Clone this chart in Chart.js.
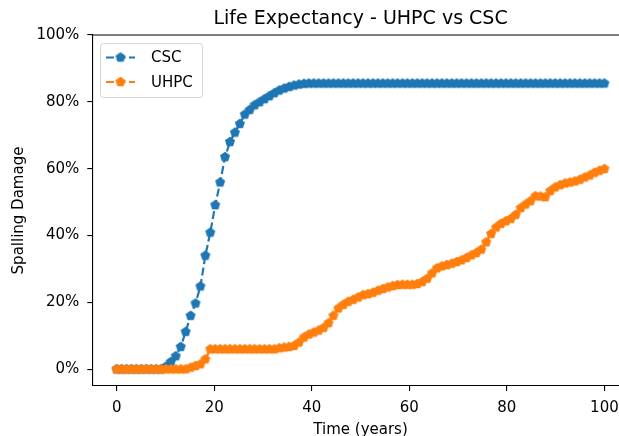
<!DOCTYPE html>
<html>
<head>
<meta charset="utf-8">
<script src="https://cdn.jsdelivr.net/npm/chart.js@4.4.1/dist/chart.umd.min.js"></script>
<style>
  html, body { margin: 0; padding: 0; background: #fff; overflow: hidden; }
  #wrap { width: 636px; height: 436px; overflow: hidden; }
</style>
</head>
<body>
<div id="wrap"><canvas id="chart" width="636" height="436"></canvas></div>
<script>
// time axis (years), 100 samples from 0 to 100
const years = [
  0, 1.01, 2.02, 3.03, 4.04, 5.05, 6.06, 7.07, 8.08, 9.09,
  10.10, 11.11, 12.12, 13.13, 14.14, 15.15, 16.16, 17.17, 18.18, 19.19,
  20.20, 21.21, 22.22, 23.23, 24.24, 25.25, 26.26, 27.27, 28.28, 29.29,
  30.30, 31.31, 32.32, 33.33, 34.34, 35.35, 36.36, 37.37, 38.38, 39.39,
  40.40, 41.41, 42.42, 43.43, 44.44, 45.45, 46.46, 47.47, 48.48, 49.49,
  50.51, 51.52, 52.53, 53.54, 54.55, 55.56, 56.57, 57.58, 58.59, 59.60,
  60.61, 61.62, 62.63, 63.64, 64.65, 65.66, 66.67, 67.68, 68.69, 69.70,
  70.71, 71.72, 72.73, 73.74, 74.75, 75.76, 76.77, 77.78, 78.79, 79.80,
  80.81, 81.82, 82.83, 83.84, 84.85, 85.86, 86.87, 87.88, 88.89, 89.90,
  90.91, 91.92, 92.93, 93.94, 94.95, 95.96, 96.97, 97.98, 98.99, 100
];

// spalling damage in %
const cscDamage = [
  0, 0, 0, 0, 0, 0, 0, 0, 0, 0,
  0.8, 2.2, 3.9, 6.7, 11.2, 16.0, 19.7, 24.8, 34.0, 40.9,
  49.1, 55.9, 63.5, 68.0, 70.8, 73.4, 76.2, 77.6, 79.0, 79.9,
  80.8, 81.7, 82.6, 83.4, 84.0, 84.5, 84.9, 85.2, 85.4, 85.5,
  85.5, 85.5, 85.5, 85.5, 85.5, 85.5, 85.5, 85.5, 85.5, 85.5,
  85.5, 85.5, 85.5, 85.5, 85.5, 85.5, 85.5, 85.5, 85.5, 85.5,
  85.5, 85.5, 85.5, 85.5, 85.5, 85.5, 85.5, 85.5, 85.5, 85.5,
  85.5, 85.5, 85.5, 85.5, 85.5, 85.5, 85.5, 85.5, 85.5, 85.5,
  85.5, 85.5, 85.5, 85.5, 85.5, 85.5, 85.5, 85.5, 85.5, 85.5,
  85.5, 85.5, 85.5, 85.5, 85.5, 85.5, 85.5, 85.5, 85.5, 85.5
];

const uhpcDamage = [
  0, 0, 0, 0, 0, 0, 0, 0, 0, 0,
  0, 0, 0, 0, 0, 0.5, 1.0, 1.5, 3.0, 6.0,
  6.0, 6.0, 6.0, 6.0, 6.0, 6.0, 6.0, 6.0, 6.0, 6.0,
  6.0, 6.0, 6.0, 6.3, 6.5, 6.7, 7.0, 8.0, 9.5, 10.4,
  11.0, 11.6, 12.4, 13.8, 16.0, 18.2, 19.3, 20.2, 20.8, 21.5,
  22.2, 22.5, 22.9, 23.5, 24.0, 24.5, 24.9, 25.2, 25.3, 25.3,
  25.3, 25.5, 26.1, 27.1, 28.7, 30.2, 30.8, 31.2, 31.6, 32.1,
  32.6, 33.3, 34.1, 34.8, 35.8, 38.0, 40.5, 42.4, 43.5, 44.3,
  45.0, 46.2, 48.2, 49.3, 50.3, 51.8, 51.7, 51.5, 53.3, 54.4,
  55.1, 55.6, 55.9, 56.2, 56.7, 57.4, 58.0, 58.8, 59.4, 59.9
];

const xTicks = [0, 20, 40, 60, 80, 100];
const yTicks = [0, 20, 40, 60, 80, 100];

const BLUE = '#1f77b4';
const ORANGE = '#ff7f0e';
const FONT = "'DejaVu Sans', sans-serif";

function makePentagon(color, radius, edge) {
  const size = Math.ceil(2 * (radius + edge)) + 2;
  const c = document.createElement('canvas');
  c.width = size;
  c.height = size;
  const ctx = c.getContext('2d');
  ctx.beginPath();
  for (let i = 0; i < 5; i++) {
    const a = -Math.PI / 2 + (i * 2 * Math.PI) / 5;
    ctx.lineTo(size / 2 + radius * Math.cos(a), size / 2 + radius * Math.sin(a));
  }
  ctx.closePath();
  ctx.fillStyle = color;
  ctx.fill();
  ctx.lineWidth = edge;
  ctx.strokeStyle = color;
  ctx.stroke();
  return c;
}

const cscMarker = makePentagon(BLUE, 4.4, 1.4);
const uhpcMarker = makePentagon(ORANGE, 4.4, 1.4);

function toPoints(values) {
  return values.map((v, i) => ({ x: years[i], y: v }));
}

// top spine only; the right side of the axes box lies past the picture edge
const framePlugin = {
  id: 'frame',
  afterDraw(chart) {
    const { ctx, chartArea } = chart;
    ctx.save();
    ctx.strokeStyle = '#000';
    ctx.lineWidth = 1.1;
    ctx.beginPath();
    ctx.moveTo(chartArea.left, chartArea.top);
    ctx.lineTo(chart.width, chartArea.top);
    ctx.stroke();
    ctx.restore();
  },
};

// legend in the upper left corner, inside the axes
const insideLegend = {
  id: 'insideLegend',
  afterDraw(chart) {
    const { ctx, chartArea } = chart;
    const x = chartArea.left + 7.7;
    const y = chartArea.top + 8;
    const w = 102;
    const h = 54;
    ctx.save();
    ctx.beginPath();
    ctx.roundRect(x + 0.5, y + 0.5, w, h, 3);
    ctx.fillStyle = 'rgba(255,255,255,0.8)';
    ctx.fill();
    ctx.strokeStyle = '#d6d6d6';
    ctx.lineWidth = 1;
    ctx.stroke();

    chart.data.datasets.slice().sort((a, b) => a.legendIndex - b.legendIndex).forEach((ds, i) => {
      const cy = y + 14.5 + i * 24.5;
      ctx.strokeStyle = ds.borderColor;
      ctx.lineWidth = ds.borderWidth;
      ctx.setLineDash(ds.borderDash);
      ctx.beginPath();
      ctx.moveTo(x + 6, cy);
      ctx.lineTo(x + 35, cy);
      ctx.stroke();
      ctx.setLineDash([]);
      const m = ds.pointStyle;
      ctx.drawImage(m, x + 20.5 - m.width / 2, cy - m.height / 2);
      ctx.fillStyle = '#000';
      ctx.font = `15px ${FONT}`;
      ctx.textBaseline = 'middle';
      ctx.fillText(ds.label, x + 51, cy + 1);
    });
    ctx.restore();
  },
};

new Chart(document.getElementById('chart'), {
  type: 'line',
  data: {
    datasets: [
      {
        label: 'UHPC',
        legendIndex: 1,
        order: 0,
        data: toPoints(uhpcDamage),
        borderColor: ORANGE,
        backgroundColor: ORANGE,
        borderWidth: 2.2,
        borderDash: [8, 3.5],
        pointStyle: uhpcMarker,
        pointRadius: 5,
        tension: 0,
      },
      {
        label: 'CSC',
        legendIndex: 0,
        order: 1,
        data: toPoints(cscDamage),
        borderColor: BLUE,
        backgroundColor: BLUE,
        borderWidth: 2.2,
        borderDash: [8, 3.5],
        pointStyle: cscMarker,
        pointRadius: 5,
        tension: 0,
      },
    ],
  },
  options: {
    responsive: false,
    animation: false,
    events: [],
    layout: { padding: { left: 0, right: 0, top: 0, bottom: 0 } },
    plugins: {
      legend: { display: false },
      tooltip: { enabled: false },
      title: {
        display: true,
        text: 'Life Expectancy - UHPC vs CSC',
        fullSize: false,
        color: '#000',
        font: { family: FONT, size: 19, weight: 'normal' },
        padding: { top: 7.5, bottom: 4.7 },
      },
    },
    scales: {
      x: {
        type: 'linear',
        min: -5,
        max: 105,
        afterFit(scale) { scale.height = 50; },
        afterBuildTicks(scale) { scale.ticks = xTicks.map((v) => ({ value: v })); },
        grid: { drawOnChartArea: false, drawTicks: true, tickLength: 5, color: '#000', lineWidth: 1.1 },
        border: { display: true, color: '#000', width: 1.1 },
        ticks: {
          color: '#000',
          font: { family: FONT, size: 15 },
          padding: 8,
          maxRotation: 0,
          callback(value) { return String(value); },
        },
        title: {
          display: true,
          text: 'Time (years)',
          color: '#000',
          font: { family: FONT, size: 15 },
          padding: { top: 0, bottom: -3 },
        },
      },
      y: {
        type: 'linear',
        min: -5,
        max: 100,
        afterFit(scale) { scale.width = 92.3; },
        afterBuildTicks(scale) { scale.ticks = yTicks.map((v) => ({ value: v })); },
        grid: { drawOnChartArea: false, drawTicks: true, tickLength: 5, color: '#000', lineWidth: 1.1 },
        border: { display: true, color: '#000', width: 1.1 },
        ticks: {
          color: '#000',
          font: { family: FONT, size: 15 },
          padding: 8,
          callback(value) { return `${value}%`; },
        },
        title: {
          display: true,
          text: 'Spalling Damage',
          color: '#000',
          font: { family: FONT, size: 15 },
          padding: { top: 10, bottom: 0 },
        },
      },
    },
  },
  plugins: [framePlugin, insideLegend],
});
</script>
</body>
</html>
